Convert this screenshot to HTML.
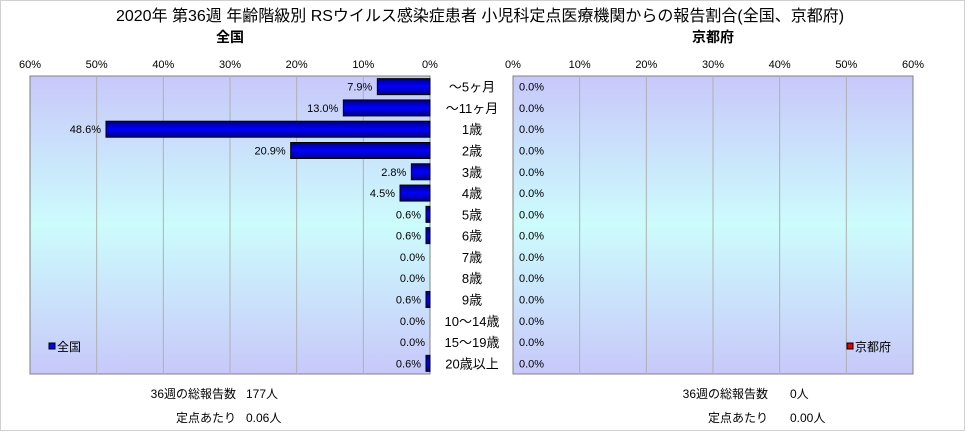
<!DOCTYPE html>
<html><head><meta charset="utf-8"><style>
body{margin:0;background:#fff;font-family:"Liberation Sans","Noto Sans CJK JP",sans-serif;}
svg text{font-family:"Liberation Sans","Noto Sans CJK JP",sans-serif;}
</style></head><body>
<svg id="c" width="968" height="431" viewBox="0 0 968 431" xmlns="http://www.w3.org/2000/svg">
<defs>
<linearGradient id="bg" x1="0" y1="0" x2="0" y2="1">
<stop offset="0" stop-color="#c8c8fa"/><stop offset="0.5" stop-color="#ccfcfc"/><stop offset="1" stop-color="#c8c8fa"/></linearGradient>
<linearGradient id="bar" x1="0" y1="0" x2="0" y2="1">
<stop offset="0" stop-color="#000080"/><stop offset="0.5" stop-color="#0000ff"/><stop offset="1" stop-color="#000080"/></linearGradient>
</defs>
<rect x="0.5" y="0.5" width="964" height="430" fill="#fff" stroke="#d0d0d0"/>
<text x="480" y="21" font-size="16" text-anchor="middle">2020年 第36週 年齢階級別 RSウイルス感染症患者 小児科定点医療機関からの報告割合(全国、京都府)</text>
<text x="230" y="42" font-size="14" font-weight="bold" text-anchor="middle">全国</text>
<text x="713" y="42" font-size="14" font-weight="bold" text-anchor="middle">京都府</text>
<g id="g"></g>
<text x="236" y="398" font-size="12" text-anchor="end">36週の総報告数</text>
<text x="246" y="398" font-size="12">177人</text>
<text x="236" y="422" font-size="12" text-anchor="end">定点あたり</text>
<text x="246" y="422" font-size="12">0.06人</text>
<text x="768" y="398" font-size="12" text-anchor="end">36週の総報告数</text>
<text x="790" y="398" font-size="12">0人</text>
<text x="768" y="422" font-size="12" text-anchor="end">定点あたり</text>
<text x="790" y="422" font-size="12">0.00人</text>
</svg>
<script>
const categories=["～5ヶ月","～11ヶ月","1歳","2歳","3歳","4歳","5歳","6歳","7歳","8歳","9歳","10～14歳","15～19歳","20歳以上"];
const nationalValues=[7.9,13.0,48.6,20.9,2.8,4.5,0.6,0.6,0.0,0.0,0.6,0.0,0.0,0.6];
const kyotoValues=[0,0,0,0,0,0,0,0,0,0,0,0,0,0];
const tickLabels=[0,10,20,30,40,50,60];
const NS="http://www.w3.org/2000/svg",g=document.getElementById('g');
const yTop=76,yBottom=374,maxV=60,W=400;
const L0=430,R0=513;
const xl=v=>L0-v/maxV*W, xr=v=>R0+v/maxV*W;
const rowH=(yBottom-yTop)/categories.length;
const yc=i=>yTop+rowH*(i+0.5);
function mk(t,a,p){const e=document.createElementNS(NS,t);for(const k in a)e.setAttribute(k,a[k]);(p||g).appendChild(e);return e;}
let e=mk('rect',{x:30,y:yTop,width:W,height:yBottom-yTop,fill:'url(#bg)',stroke:'#808080'});


e=mk('rect',{x:R0,y:yTop,width:W,height:yBottom-yTop,fill:'url(#bg)',stroke:'#808080'});


tickLabels.forEach(t=>{
 if(t>0&&t<60){
  e=mk('line',{x1:xl(t),x2:xl(t),y1:yTop,y2:yBottom,stroke:'#b0b0b0'});
  
  
  e=mk('line',{x1:xr(t),x2:xr(t),y1:yTop,y2:yBottom,stroke:'#b0b0b0'});
  
  
 }
 e=mk('text',{x:xl(t),y:68,'font-size':11,'text-anchor':'middle'});e.textContent=t+'%';
 
 
 e=mk('text',{x:xr(t),y:68,'font-size':11,'text-anchor':'middle'});e.textContent=t+'%';
 
 
});
categories.forEach((c,i)=>{
 const y=yc(i),v=nationalValues[i],k=kyotoValues[i];
 if(v>0){e=mk('rect',{x:xl(v),y:y-8,width:L0-xl(v),height:16,fill:'url(#bar)',stroke:'#000'});
 
 }
 e=mk('text',{x:xl(v)-5,y:y+4,'font-size':11,'text-anchor':'end'});e.textContent=v.toFixed(1)+'%';
 
 
 if(k>0){e=mk('rect',{x:R0,y:y-8,width:xr(k)-R0,height:16,fill:'#c00',stroke:'#000'});
 
 }
 e=mk('text',{x:xr(k)+6,y:y+4,'font-size':11});e.textContent=k.toFixed(1)+'%';
 
 
 e=mk('text',{x:472,y:y+5,'font-size':13,'text-anchor':'middle'});e.textContent=c;
 
 
});
e=mk('rect',{x:49,y:343,width:6,height:6,fill:'#0000ff',stroke:'#000'});


e=mk('text',{x:57,y:351,'font-size':12});e.textContent='全国';


e=mk('rect',{x:847,y:343,width:6,height:6,fill:'#e00000',stroke:'#000'});


e=mk('text',{x:855,y:351,'font-size':12});e.textContent='京都府';


</script>
</body></html>
